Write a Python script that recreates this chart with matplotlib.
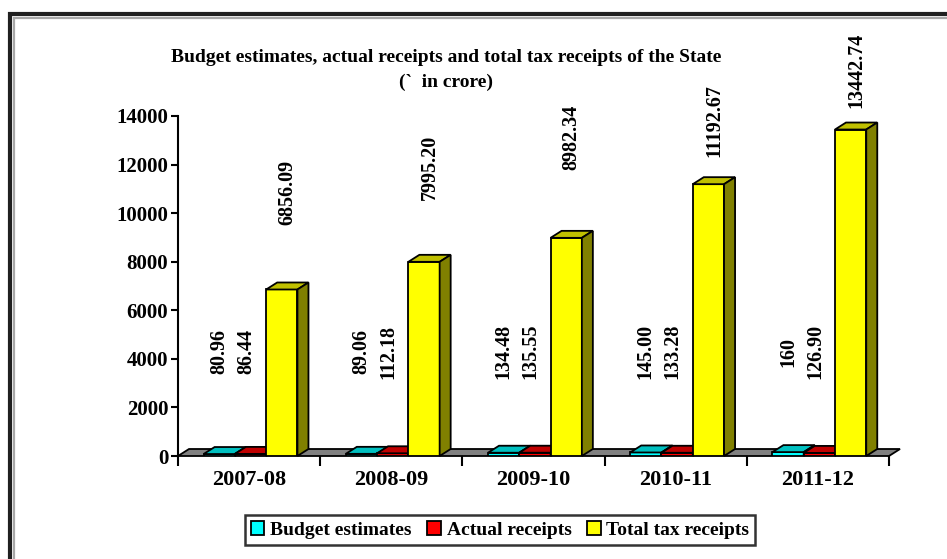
import matplotlib.pyplot as plt
from matplotlib.patches import Polygon, Rectangle
from matplotlib.ticker import MultipleLocator, FixedLocator
import numpy as np

plt.rcParams['font.family'] = ['Liberation Serif', 'DejaVu Serif']
plt.rcParams['font.weight'] = 'bold'

years = ['2007-08', '2008-09', '2009-10', '2010-11', '2011-12']
budget = [80.96, 89.06, 134.48, 145.00, 160]
budget_txt = ['80.96', '89.06', '134.48', '145.00', '160']
actual = [86.44, 112.18, 135.55, 133.28, 126.90]
actual_txt = ['86.44', '112.18', '135.55', '133.28', '126.90']
total = [6856.09, 7995.20, 8982.34, 11192.67, 13442.74]
total_txt = ['6856.09', '7995.20', '8982.34', '11192.67', '13442.74']

series = [
    ('Budget estimates', budget, budget_txt, '#00FFFF', '#00C0C0', '#008080'),
    ('Actual receipts', actual, actual_txt, '#FF0000', '#C00000', '#800000'),
    ('Total tax receipts', total, total_txt, '#FFFF00', '#C0C000', '#808000'),
]

W, H = 947, 559
fig = plt.figure(figsize=(W / 100, H / 100), dpi=100, facecolor='white')

# outer frame
fig.patches.append(Rectangle((10 / W, -0.2), 1.2, (H - 14) / H + 0.2, transform=fig.transFigure,
                             fill=False, edgecolor='#202020', lw=3.0, zorder=0))
fig.patches.append(Rectangle((13.5 / W, -0.2), 1.2, (H - 17.5) / H + 0.2, transform=fig.transFigure,
                             fill=False, edgecolor='#a8a8a8', lw=1.6, zorder=0))

ax = fig.add_axes([178 / W, (H - 456) / H, 711 / W, 340 / H])
ax.set_xlim(0, 5)
ax.set_ylim(0, 14000)
ax.patch.set_alpha(0)

# depth of the pseudo 3D effect (data units)
dx = 11 / 142
dy = 7 / 340 * 14000
bw = 0.22
offsets = [-0.22, 0.0, 0.22]
n = len(years)

# floor
floor = Polygon([(0, 0), (n, 0), (n + dx, dy), (dx, dy)], closed=True,
                facecolor='#808080', edgecolor='black', lw=1.3, zorder=1, clip_on=False)
ax.add_patch(floor)

z = 2
for i in range(n):
    for k, (name, vals, txt, front, top, side) in enumerate(series):
        xc = i + 0.51 + offsets[k]
        x0, x1 = xc - bw / 2, xc + bw / 2
        h = vals[i]
        ax.bar(xc, h, width=bw, color=front, edgecolor='black', lw=1.3, zorder=z)
        ax.add_patch(Polygon([(x0, h), (x1, h), (x1 + dx, h + dy), (x0 + dx, h + dy)],
                             closed=True, facecolor=top, edgecolor='black', lw=1.3,
                             zorder=z, clip_on=False))
        ax.add_patch(Polygon([(x1, 0), (x1 + dx, dy), (x1 + dx, h + dy), (x1, h)],
                             closed=True, facecolor=side, edgecolor='black', lw=1.3,
                             zorder=z, clip_on=False))
        z += 1

# value labels
yellow_pad = [2650, 2550, 2800, 1120, 890]
for i in range(n):
    ax.text(i + 0.51 - 0.22, 4300, budget_txt[i], rotation=90, ha='center', va='center',
            fontsize=14.5, fontweight='bold', zorder=50)
    ax.text(i + 0.51 - 0.03, 4300, actual_txt[i], rotation=90, ha='center', va='center',
            fontsize=14.5, fontweight='bold', zorder=50)
    ax.text(i + 0.51 + 0.22 + dx / 2, total[i] + yellow_pad[i], total_txt[i], rotation=90,
            ha='center', va='bottom', fontsize=14.5, fontweight='bold', zorder=50)

for s in ['top', 'right', 'bottom']:
    ax.spines[s].set_visible(False)
ax.spines['left'].set_linewidth(1.5)
ax.spines['left'].set_zorder(60)

ax.yaxis.set_major_locator(MultipleLocator(2000))
ax.tick_params(axis='y', length=5, width=1.5, labelsize=15, pad=2)
for lab in ax.get_yticklabels():
    lab.set_fontweight('bold')

ax.xaxis.set_major_locator(FixedLocator(np.arange(n + 1)))
ax.xaxis.set_minor_locator(FixedLocator(np.arange(n) + 0.5))
ax.set_xticklabels([''] * (n + 1))
ax.set_xticklabels(years, minor=True)
ax.tick_params(axis='x', which='major', length=7, width=1.5, direction='out')
ax.tick_params(axis='x', which='minor', length=0, labelsize=16, pad=10)
for lab in ax.get_xticklabels(minor=True):
    lab.set_fontweight('bold')

fig.text(446 / W, 1 - 57 / H, 'Budget estimates, actual receipts and total tax receipts of the State',
         ha='center', va='center', fontsize=14, fontweight='bold')
fig.text(446 / W, 1 - 82 / H, '(`  in crore)', ha='center', va='center', fontsize=14, fontweight='bold')

handles = [Rectangle((0, 0), 1, 1, facecolor=s[3], edgecolor='black', lw=1.3) for s in series]
leg = fig.legend(handles, [s[0] for s in series], loc='center', bbox_to_anchor=(500 / W, 29 / H),
                 ncol=3, frameon=True, fancybox=False, prop={'size': 14, 'weight': 'bold'},
                 handlelength=0.7, handleheight=0.7, handletextpad=0.3, columnspacing=0.8,
                 borderpad=0.3, borderaxespad=0)
leg.get_frame().set_edgecolor('black')
leg.get_frame().set_linewidth(1.8)

fig.savefig('out.png', dpi=100, facecolor='white')
